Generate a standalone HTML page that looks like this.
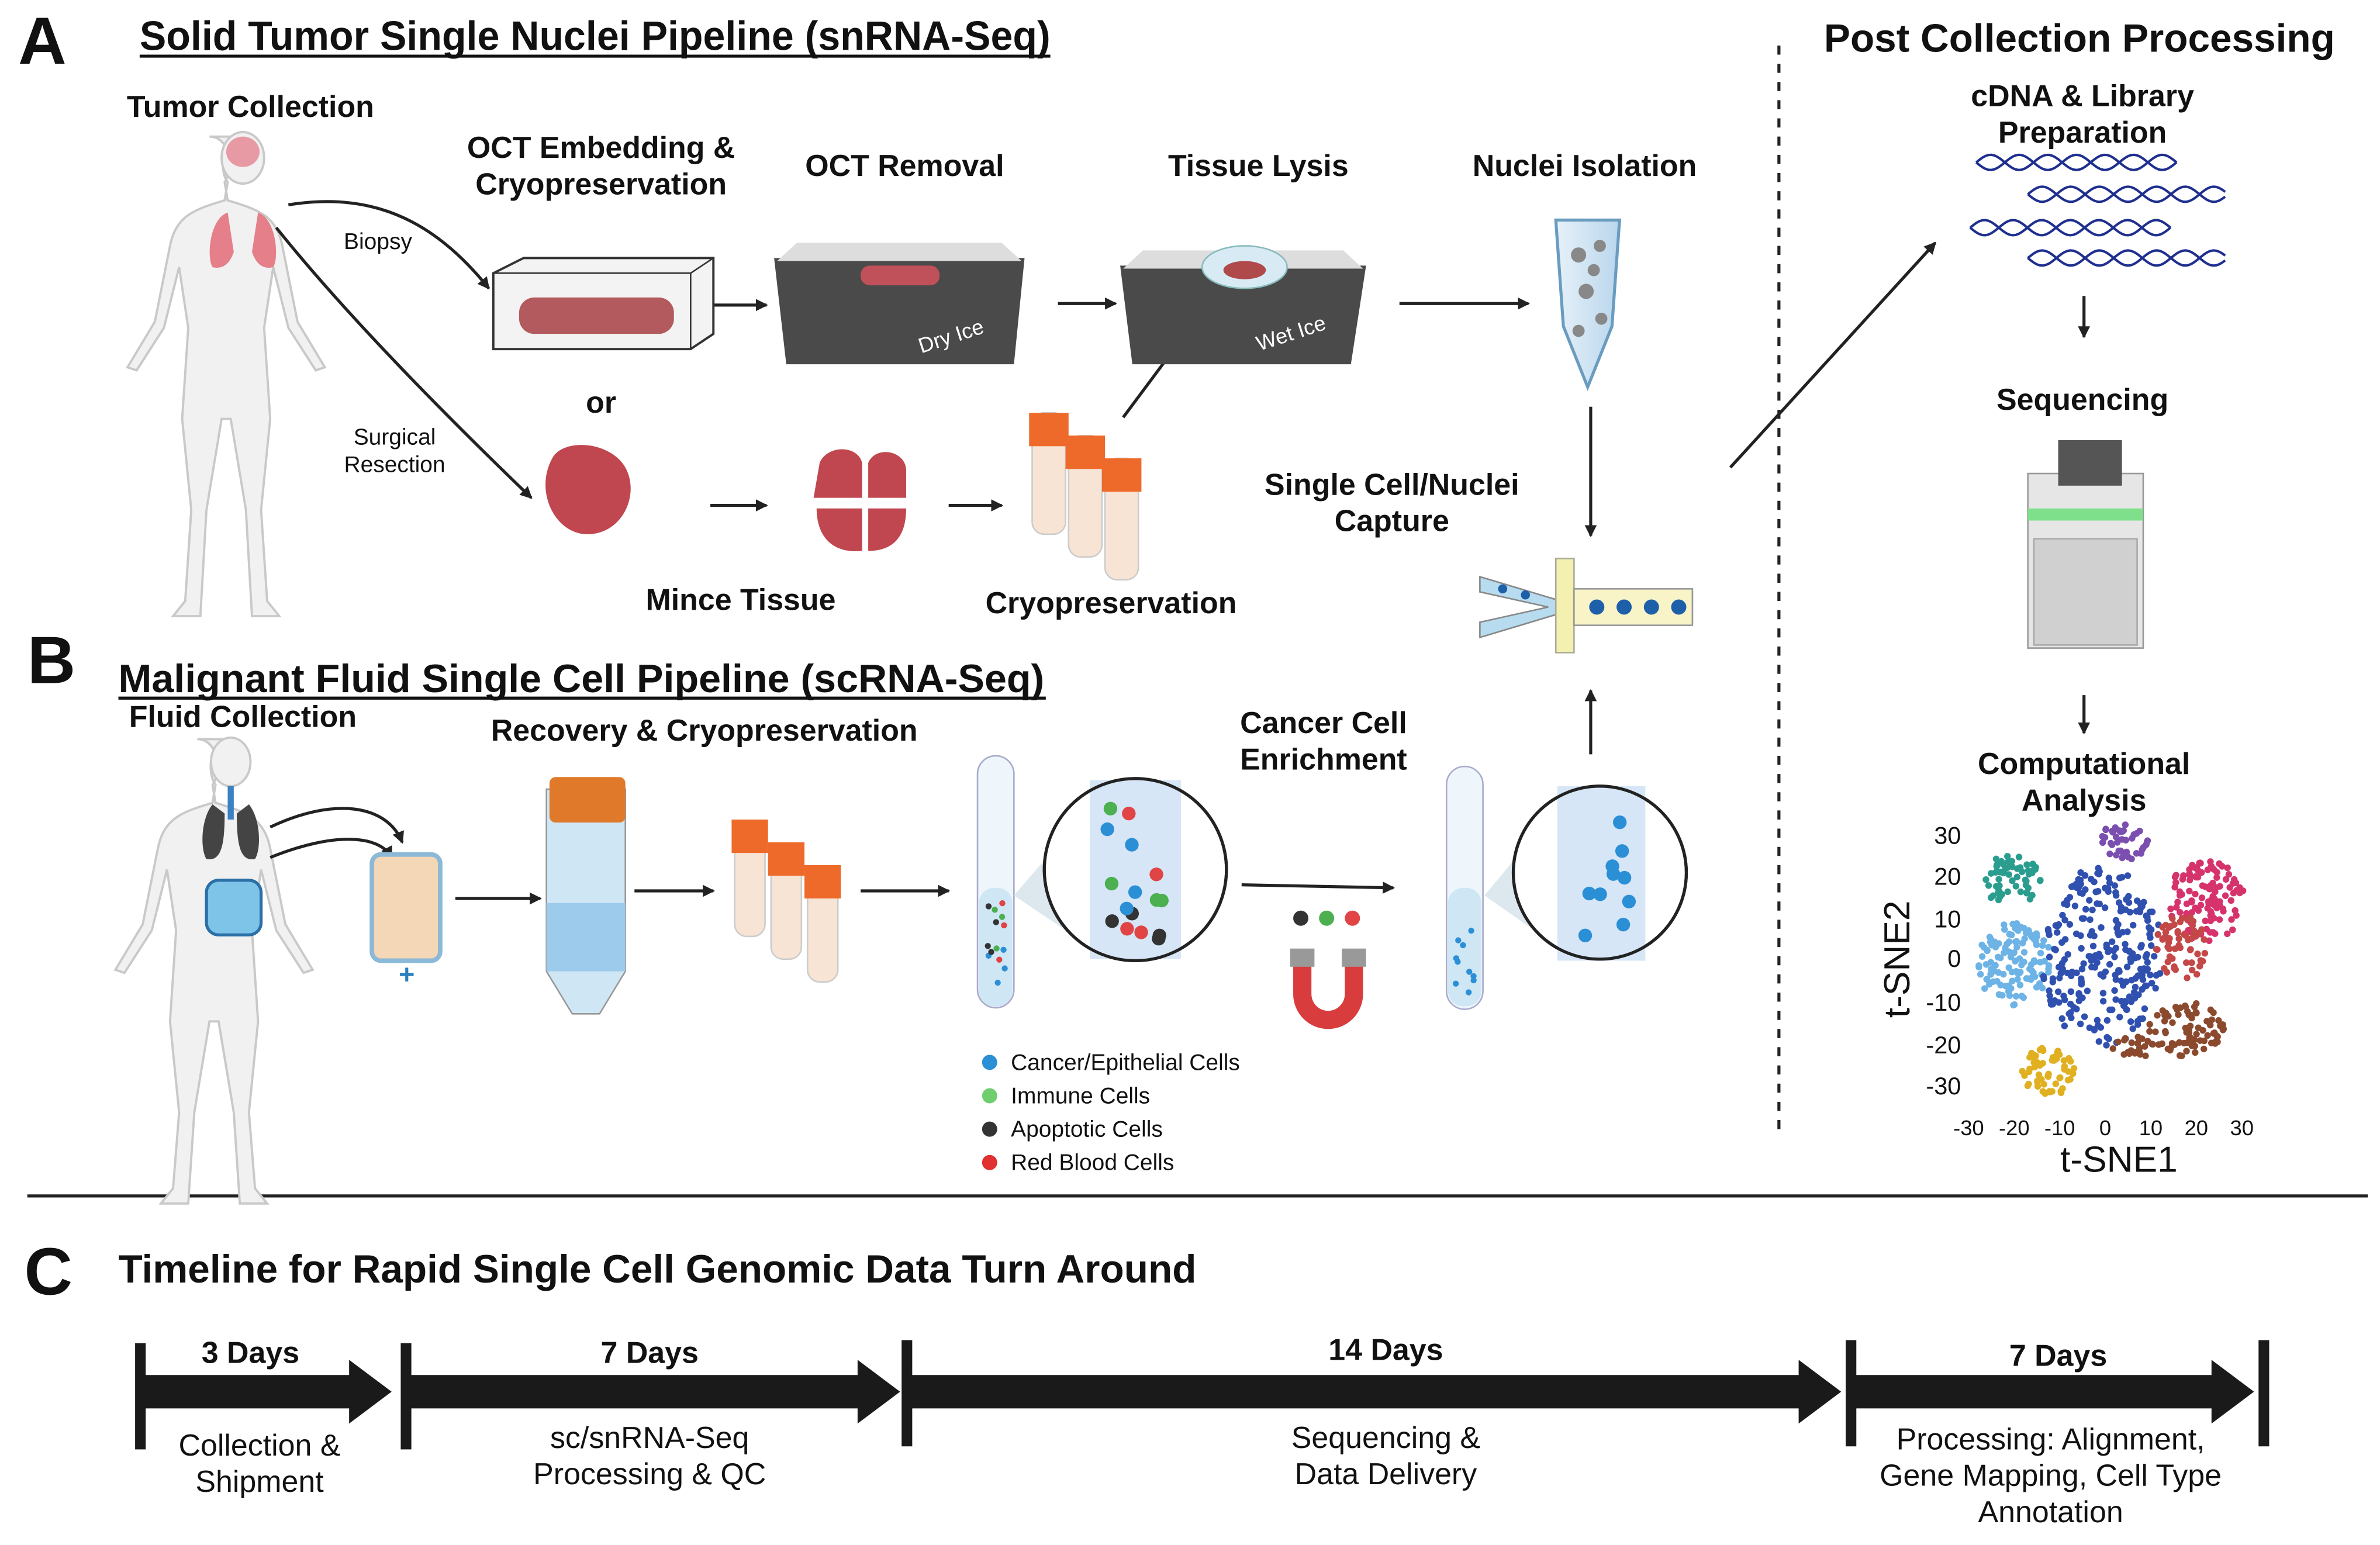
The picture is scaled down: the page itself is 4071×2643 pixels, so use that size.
<!DOCTYPE html>
<html><head><meta charset="utf-8"><style>
html,body{margin:0;padding:0;background:#fff}
svg{display:block}
text{font-family:"Liberation Sans",sans-serif;fill:#111}
.b{font-weight:bold}
</style></head><body>
<svg id="s" width="4071" height="2643" viewBox="0 0 1568 1018" xmlns="http://www.w3.org/2000/svg">
<defs>
<marker id="ar" markerWidth="8" markerHeight="8" refX="7" refY="4" orient="auto" markerUnits="userSpaceOnUse"><path d="M0,0 L8,4 L0,8 z" fill="#222"/></marker>
<linearGradient id="tube" x1="0" x2="1"><stop offset="0" stop-color="#e6f1f9"/><stop offset="1" stop-color="#b9d6ec"/></linearGradient>
</defs>
<g id="g"></g>
<!-- headers -->
<text x="12" y="42" class="b" font-size="44">A</text>
<text x="92" y="33" class="b" font-size="27" textLength="600" lengthAdjust="spacingAndGlyphs">Solid Tumor Single Nuclei Pipeline (snRNA-Seq)</text>
<line x1="92" y1="37" x2="692" y2="37" stroke="#111" stroke-width="2"/>
<text x="1370" y="34" class="b" font-size="26" text-anchor="middle">Post Collection Processing</text>
<line x1="1172" y1="30" x2="1172" y2="745" stroke="#222" stroke-width="2" stroke-dasharray="6,6"/>
<line x1="18" y1="788" x2="1560" y2="788" stroke="#222" stroke-width="2"/>
<text x="16" y="853" class="b" font-size="44">C</text>
<text x="78" y="845" class="b" font-size="26">Timeline for Rapid Single Cell Genomic Data Turn Around</text>
<text x="18" y="450" class="b" font-size="44">B</text>
<text x="78" y="456" class="b" font-size="26" textLength="610" lengthAdjust="spacingAndGlyphs">Malignant Fluid Single Cell Pipeline (scRNA-Seq)</text>
<line x1="78" y1="460" x2="689" y2="460" stroke="#111" stroke-width="2"/>

<g font-size="20" class="b" text-anchor="middle">
<text x="165" y="77">Tumor Collection</text>
<text x="396" y="104">OCT Embedding &amp;</text><text x="396" y="128">Cryopreservation</text>
<text x="596" y="116">OCT Removal</text>
<text x="829" y="116">Tissue Lysis</text>
<text x="1044" y="116">Nuclei Isolation</text>
<text x="396" y="272">or</text>
<text x="488" y="402">Mince Tissue</text>
<text x="732" y="404">Cryopreservation</text>
<text x="917" y="326">Single Cell/Nuclei</text><text x="917" y="350">Capture</text>
<text x="160" y="479">Fluid Collection</text>
<text x="464" y="488">Recovery &amp; Cryopreservation</text>
<text x="872" y="483">Cancer Cell</text><text x="872" y="507">Enrichment</text>
<text x="1372" y="70">cDNA &amp; Library</text><text x="1372" y="94">Preparation</text>
<text x="1372" y="270">Sequencing</text>
<text x="1373" y="510">Computational</text><text x="1373" y="534">Analysis</text>
</g>
<g font-size="15" text-anchor="middle" fill="#333">
<text x="249" y="164">Biopsy</text>
<text x="260" y="293">Surgical</text><text x="260" y="311">Resection</text>
</g>

<!-- humans -->
<g fill="#f1f1f1" stroke="#c9c9c9" stroke-width="1.5">
<path d="M160,90 c-14,0 -16,22 -10,30 l-2,12 c-20,6 -32,10 -36,30 l-10,50 l-18,30 l6,2 l18,-28 l10,-40 l6,40 l-4,60 l6,60 l-4,60 l-8,10 l18,0 l4,-70 l10,-60 l6,0 l10,60 l4,70 l18,0 l-8,-10 l-4,-60 l6,-60 l-4,-60 l6,-40 l10,40 l18,28 l6,-2 l-18,-30 l-10,-50 c-4,-20 -16,-24 -36,-30 l-2,-12 c6,-8 4,-30 -10,-30z"/>
<path d="M152,487 c-14,0 -16,22 -10,30 l-2,12 c-20,6 -32,10 -36,30 l-10,50 l-18,30 l6,2 l18,-28 l10,-40 l6,40 l-4,60 l6,60 l-4,50 l-8,10 l18,0 l4,-60 l10,-60 l6,0 l10,60 l4,60 l18,0 l-8,-10 l-4,-50 l6,-60 l-4,-60 l6,-40 l10,40 l18,28 l6,-2 l-18,-30 l-10,-50 c-4,-20 -16,-24 -36,-30 l-2,-12 c6,-8 4,-30 -10,-30z"/>
<ellipse cx="160" cy="104" rx="14" ry="17"/>
<ellipse cx="152" cy="502" rx="13" ry="16"/>
</g>
<ellipse cx="160" cy="100" rx="11" ry="10" fill="#e89aa4"/>
<path d="M150,140 c-12,4 -14,30 -10,36 c8,2 12,-4 14,-10z M170,140 c12,4 14,30 10,36 c-8,2 -12,-4 -14,-10z" fill="#e57f8a"/>
<path d="M140,530 c-8,10 -8,30 -4,36 c10,2 12,-10 12,-30z M164,530 c8,10 8,30 4,36 c-10,2 -12,-10 -12,-30z" fill="#444"/>
<rect x="150" y="518" width="4" height="22" fill="#3b7fc4"/>
<rect x="136" y="580" width="36" height="36" rx="8" fill="#7ec3e8" stroke="#2a6fa5" stroke-width="2"/>

<!-- arrows -->
<g stroke="#222" stroke-width="2" fill="none" marker-end="url(#ar)">
<path d="M190,135 C250,125 290,150 322,190"/>
<path d="M182,150 C230,210 300,280 350,328"/>
<path d="M470,201 L505,201"/><path d="M697,200 L735,200"/><path d="M922,200 L1007,200"/>
<path d="M468,333 L505,333"/><path d="M625,333 L660,333"/><path d="M740,275 L772,232"/>
<path d="M1048,268 L1048,353"/><path d="M1048,497 L1048,455"/>
<path d="M1140,308 L1275,160"/>
<path d="M1373,195 L1373,222"/><path d="M1373,458 L1373,483"/>
<path d="M300,592 L356,592"/><path d="M418,587 L470,587"/><path d="M567,587 L625,587"/><path d="M818,583 L918,585"/>
<path d="M178,545 C220,525 255,530 265,555"/><path d="M178,565 C220,548 250,550 258,565"/>
</g>

<!-- OCT box -->
<path d="M325,180 L345,170 L470,170 L470,220 L455,230 L325,230 z" fill="#f3f3f3" stroke="#333" stroke-width="1.5"/>
<line x1="455" y1="180" x2="470" y2="170" stroke="#333"/><line x1="455" y1="180" x2="455" y2="230" stroke="#333"/><line x1="325" y1="180" x2="455" y2="180" stroke="#333"/>
<rect x="342" y="196" width="102" height="24" rx="10" fill="#b35a5e"/>
<!-- trays -->
<path d="M510,170 L675,170 L668,240 L518,240 z" fill="#4a4a4a"/>
<path d="M512,172 L673,172 L660,160 L525,160 z" fill="#ddd"/>
<rect x="567" y="175" width="52" height="13" rx="6" fill="#c0505a"/>
<text x="628" y="226" font-size="14" style="fill:#fff" transform="rotate(-18 628 226)" text-anchor="middle">Dry Ice</text>
<path d="M738,175 L900,175 L890,240 L746,240 z" fill="#4a4a4a"/>
<path d="M740,177 L898,177 L885,165 L753,165 z" fill="#ddd"/>
<ellipse cx="820" cy="176" rx="28" ry="14" fill="#d8ebf5" stroke="#8bb" />
<ellipse cx="820" cy="178" rx="14" ry="6" fill="#b04a4a"/>
<text x="852" y="224" font-size="14" style="fill:#fff" transform="rotate(-18 852 224)" text-anchor="middle">Wet Ice</text>
<!-- nuclei tube -->
<path d="M1025,145 L1067,145 L1062,215 L1046,255 L1030,215 z" fill="url(#tube)" stroke="#6a9cc0" stroke-width="2"/>
<g fill="#888"><circle cx="1040" cy="168" r="5"/><circle cx="1054" cy="162" r="4"/><circle cx="1045" cy="192" r="5"/><circle cx="1055" cy="210" r="4"/><circle cx="1040" cy="218" r="4"/><circle cx="1050" cy="178" r="4"/></g>
<!-- tumor pieces -->
<path d="M365,300 c10,-12 40,-8 48,10 c8,18 -4,42 -26,42 c-22,0 -36,-30 -22,-52z" fill="#c0474f"/>
<path d="M540,305 c5,-12 25,-12 28,0 l0,23 l-32,0z M572,305 c5,-12 25,-8 25,5 l0,18 l-25,0z M538,335 l30,0 l0,28 c-20,2 -30,-10 -30,-28z M572,335 l25,0 c0,18 -8,28 -25,28z" fill="#c0474f"/>
<!-- cryo tubes A -->
<g id="ct"><rect x="680" y="272" width="22" height="80" rx="8" fill="#f7e4d4" stroke="#ccc"/><rect x="678" y="272" width="26" height="22" fill="#ee6a2a"/></g>
<use href="#ct" transform="translate(24,15)"/><use href="#ct" transform="translate(48,30)"/>
<!-- microfluidic -->
<path d="M975,380 L1025,395 L1115,390 L1115,410 L1025,405 L975,420 L975,410 L1020,400 L975,390z" fill="#b7dcf0" stroke="#888"/>
<rect x="1025" y="368" width="12" height="62" fill="#f3f0b0" stroke="#aa9"/>
<rect x="1037" y="388" width="78" height="24" fill="#f8f4c8" stroke="#999"/>
<g fill="#1d5fa8"><circle cx="1052" cy="400" r="5"/><circle cx="1070" cy="400" r="5"/><circle cx="1088" cy="400" r="5"/><circle cx="1106" cy="400" r="5"/><circle cx="990" cy="388" r="3"/><circle cx="1005" cy="392" r="3"/></g>
<!-- B items -->
<rect x="245" y="563" width="45" height="70" rx="6" fill="#f3d7b6" stroke="#8cb9d8" stroke-width="3"/>
<text x="268" y="648" font-size="18" class="b" text-anchor="middle" style="fill:#2a7fc0">+</text>
<path d="M360,520 L412,520 L412,640 L395,668 L377,668 L360,640z" fill="#cfe6f5" stroke="#999"/>
<rect x="360" y="595" width="52" height="45" fill="#9ccbeb"/>
<rect x="362" y="512" width="50" height="30" rx="4" fill="#e07a2a"/>
<g id="ct2"><rect x="484" y="545" width="20" height="72" rx="8" fill="#f7e4d4" stroke="#ccc"/><rect x="482" y="540" width="24" height="22" fill="#ee6a2a"/></g>
<use href="#ct2" transform="translate(24,15)"/><use href="#ct2" transform="translate(48,30)"/>
<rect x="644" y="498" width="24" height="166" rx="12" fill="#eef6fb" stroke="#aac"/>
<rect x="645" y="585" width="22" height="78" rx="10" fill="#cfe6f5"/>
<path d="M668,590 L720,530 L720,625 z" fill="#dde7ee"/>
<circle cx="748" cy="573" r="60" fill="#fff" stroke="#222" stroke-width="2"/>
<rect x="718" y="514" width="60" height="118" fill="#d6e6f6"/>
<circle cx="748" cy="573" r="60" fill="none" stroke="#222" stroke-width="2"/>
<rect x="953" y="505" width="24" height="160" rx="12" fill="#eef6fb" stroke="#aac"/>
<rect x="954" y="585" width="22" height="78" rx="10" fill="#cfe6f5"/>
<path d="M978,590 L1028,530 L1028,625 z" fill="#dde7ee"/>
<circle cx="1054" cy="575" r="57" fill="#fff" stroke="#222" stroke-width="2"/>
<rect x="1026" y="518" width="58" height="115" fill="#d6e6f6"/>
<circle cx="1054" cy="575" r="57" fill="none" stroke="#222" stroke-width="2"/>
<path d="M852,628 L852,655 a23,23 0 0 0 46,0 L898,628 L886,628 L886,655 a11,11 0 0 1 -22,0 L864,628z" fill="#d83c3c"/>
<rect x="850" y="625" width="16" height="12" fill="#999"/><rect x="884" y="625" width="16" height="12" fill="#999"/>
<circle cx="857" cy="605" r="5" fill="#333"/><circle cx="874" cy="605" r="5" fill="#4caf50"/><circle cx="891" cy="605" r="5" fill="#e04444"/>
<!-- legend -->
<g font-size="15"><circle cx="652" cy="700" r="5" fill="#2b8fd6"/><text x="666" y="705">Cancer/Epithelial Cells</text>
<circle cx="652" cy="722" r="5" fill="#6fcf6f"/><text x="666" y="727">Immune Cells</text>
<circle cx="652" cy="744" r="5" fill="#333"/><text x="666" y="749">Apoptotic Cells</text>
<circle cx="652" cy="766" r="5" fill="#e03030"/><text x="666" y="771">Red Blood Cells</text></g>
<!-- sequencer -->
<rect x="1336" y="312" width="76" height="115" fill="#e6e6e6" stroke="#999"/>
<rect x="1336" y="335" width="76" height="8" fill="#7ee08a"/>
<rect x="1356" y="290" width="42" height="30" fill="#555"/>
<rect x="1340" y="355" width="68" height="70" fill="#d0d0d0" stroke="#aaa"/>
<!-- tSNE axes -->
<g font-size="16" fill="#222" text-anchor="end">
<text x="1292" y="556">30</text><text x="1292" y="583">20</text><text x="1292" y="611">10</text><text x="1292" y="637">0</text><text x="1292" y="666">-10</text><text x="1292" y="694">-20</text><text x="1292" y="721">-30</text></g>
<g font-size="14" text-anchor="middle"><text x="1297" y="748">-30</text><text x="1327" y="748">-20</text><text x="1357" y="748">-10</text><text x="1387" y="748">0</text><text x="1417" y="748">10</text><text x="1447" y="748">20</text><text x="1477" y="748">30</text></g>
<text x="1396" y="772" font-size="24" text-anchor="middle">t-SNE1</text>
<text x="1258" y="632" font-size="24" text-anchor="middle" transform="rotate(-90 1258 632)">t-SNE2</text>
<!-- timeline -->
<g fill="#1a1a1a">
<rect x="92" y="906" width="140" height="22"/><path d="M230,896 L258,917 L230,938z"/>
<rect x="267" y="906" width="300" height="22"/><path d="M565,896 L593,917 L565,938z"/>
<rect x="597" y="906" width="590" height="22"/><path d="M1185,896 L1213,917 L1185,938z"/>
<rect x="1219" y="906" width="240" height="22"/><path d="M1457,896 L1485,917 L1457,938z"/>
<rect x="89" y="885" width="7" height="70"/><rect x="264" y="885" width="7" height="70"/><rect x="594" y="883" width="7" height="70"/><rect x="1216" y="883" width="7" height="70"/><rect x="1488" y="883" width="7" height="70"/>
</g>
<g font-size="20" class="b" text-anchor="middle"><text x="165" y="898">3 Days</text><text x="428" y="898">7 Days</text><text x="913" y="896">14 Days</text><text x="1356" y="900">7 Days</text></g>
<g font-size="20" text-anchor="middle"><text x="171" y="959">Collection &amp;</text><text x="171" y="983">Shipment</text>
<text x="428" y="954">sc/snRNA-Seq</text><text x="428" y="978">Processing &amp; QC</text>
<text x="913" y="954">Sequencing &amp;</text><text x="913" y="978">Data Delivery</text>
<text x="1351" y="955">Processing: Alignment,</text><text x="1351" y="979">Gene Mapping, Cell Type</text><text x="1351" y="1003">Annotation</text></g>
<g id="g2"></g>
</svg>
<script>
var g=document.getElementById('g'),g2=document.getElementById('g2'),ns='http://www.w3.org/2000/svg',seed=7;
function r(){seed=(seed*16807)%2147483647;return seed/2147483647;}
function c(x,y,rr,f,par){var e=document.createElementNS(ns,'circle');e.setAttribute('cx',x);e.setAttribute('cy',y);e.setAttribute('r',rr);e.setAttribute('fill',f);(par||g).appendChild(e);}
function cl(cx,cy,rx,ry,n,f){for(var i=0;i<n;i++){var a=r()*6.283,d=Math.sqrt(r());c(cx+Math.cos(a)*rx*d,cy+Math.sin(a)*ry*d,2.2,f);}}
cl(1325,580,20,17,60,'#2a9d8f');cl(1398,555,17,12,40,'#7b4fb0');cl(1453,594,26,27,110,'#d6336c');
cl(1327,636,25,28,120,'#6db3e6');cl(1385,630,40,60,260,'#3050b0');cl(1437,625,17,22,60,'#c44848');
cl(1440,678,25,18,80,'#8b4a2e');cl(1405,690,14,8,25,'#8b4a2e');cl(1350,706,18,16,60,'#e0b020');
function dna(x,y,w){for(var k=0;k<2;k++){var p=document.createElementNS(ns,'path'),d='';for(var i=0;i<=w;i+=2){var yy=y+Math.sin(i/6+k*3.14)*5;d+=(i?'L':'M')+(x+i)+','+yy;}p.setAttribute('d',d);p.setAttribute('stroke','#1f2f8f');p.setAttribute('stroke-width',1.6);p.setAttribute('fill','none');g.appendChild(p);}}
dna(1302,107,132);dna(1336,128,130);dna(1298,150,132);dna(1336,170,130);
var cols=['#2b8fd6','#333','#e04444','#4caf50'];
for(var i=0;i<16;i++)c(726+r()*44,525+r()*100,4.5,cols[i%4],g2);
for(var i=0;i<10;i++)c(1036+r()*38,530+r()*90,4.5,'#2b8fd6',g2);
for(var i=0;i<14;i++)c(650+r()*12,595+r()*60,2,cols[i%4],g2);
for(var i=0;i<10;i++)c(959+r()*12,595+r()*60,2,'#2b8fd6',g2);
</script>
</body></html>
